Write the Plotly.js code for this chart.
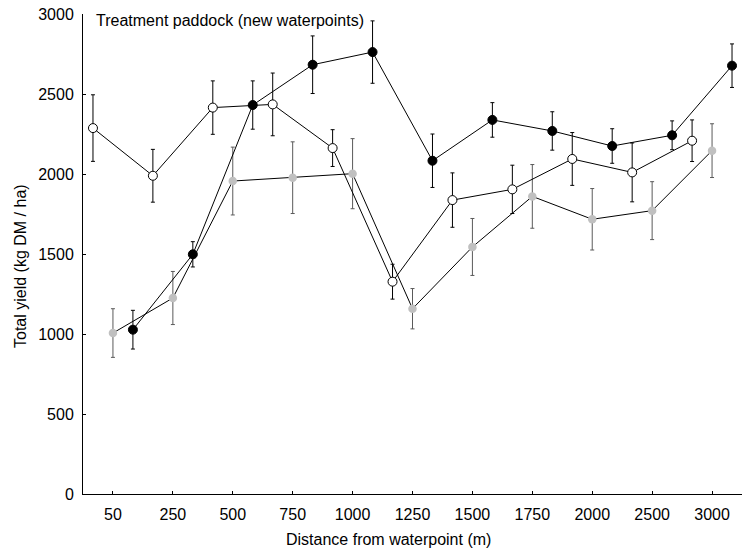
<!DOCTYPE html>
<html>
<head>
<meta charset="utf-8">
<script src="https://cdn.plot.ly/plotly-3.0.1.min.js"></script>
<style>html,body{margin:0;padding:0;background:#fff;}#chart{width:742px;height:557px;}</style>
</head>
<body>
<div id="chart"></div>
<script>
// Distance categories (m)
const categories = ["50","250","500","750","1000","1250","1500","1750","2000","2500","3000"];

// Grey series (filled grey circles)
const greyYield = [1006, 1225, 1956, 1977, 2002, 1158, 1544, 1860, 1717, 1771, 2146];
const greyErr   = [152, 166, 212, 224, 219, 126, 178, 199, 192, 181, 168];

// Black series (filled black circles)
const blackYield = [1027, 1498, 2431, 2683, 2762, 2083, 2338, 2269, 2175, 2242, 2677];
const blackErr   = [121, 79, 151, 180, 195, 167, 108, 120, 108, 90, 136];

// White series (open circles)
const whiteYield = [2287, 1989, 2415, 2435, 2162, 1327, 1837, 1904, 2094, 2010, 2208];
const whiteErr   = [208, 165, 167, 196, 115, 109, 170, 151, 165, 184, 130];

const idx = categories.map((c, i) => i);
const dodge = 1/3;

function series(yv, ev, off, mcolor, lcolor, ecolor, msize) {
  return {
    type: 'scatter', mode: 'lines+markers',
    x: idx.map(i => i + off), y: yv,
    line: {color: '#000', width: 1},
    marker: {size: msize, color: mcolor, line: {color: lcolor || mcolor, width: lcolor ? 1 : 0}},
    error_y: {type: 'data', array: ev, visible: true, color: ecolor, thickness: 1, width: 2},
    showlegend: false, hoverinfo: 'x+y', cliponaxis: false
  };
}

const traces = [
  series(greyYield, greyErr, 0, '#c0c0c0', null, '#5a5a5a', 8.5),
  series(whiteYield, whiteErr, -dodge, '#ffffff', '#000000', '#000000', 9),
  series(blackYield, blackErr, dodge, '#000000', '#000000', '#000000', 9)
];

const font = {family: '"Liberation Sans", Arial, sans-serif', size: 16, color: '#000'};

const layout = {
  width: 742, height: 557,
  margin: {l: 83, r: 0, t: 14, b: 63, pad: 0},
  paper_bgcolor: '#fff', plot_bgcolor: '#fff',
  font: font,
  xaxis: {
    range: [-0.5, 10.5], tickvals: idx, ticktext: categories,
    showgrid: false, zeroline: false, showline: true, linecolor: '#000', linewidth: 1,
    ticks: 'inside', ticklen: 3, tickcolor: '#000', tickwidth: 1,
    ticklabelstandoff: 6, tickfont: font, fixedrange: true
  },
  yaxis: {
    range: [0, 3000], tickvals: [0, 500, 1000, 1500, 2000, 2500, 3000],
    showgrid: false, zeroline: false, showline: true, linecolor: '#000', linewidth: 1,
    ticks: 'inside', ticklen: 3, tickcolor: '#000', tickwidth: 1,
    ticklabelstandoff: 5, tickfont: font, fixedrange: true
  },
  annotations: [
    {text: 'Treatment paddock (new waterpoints)', xref: 'paper', yref: 'paper',
     x: 0.017, y: 0.986, xanchor: 'left', yanchor: 'middle', showarrow: false, font: font},
    {text: 'Distance from waterpoint (m)', xref: 'paper', yref: 'paper',
     x: 0.4636, y: -0.0958, xanchor: 'center', yanchor: 'middle', showarrow: false, font: font},
    {text: 'Total yield (kg DM / ha)', xref: 'paper', yref: 'paper', textangle: -90,
     x: -0.0956, y: 0.475, xanchor: 'center', yanchor: 'middle', showarrow: false, font: font}
  ]
};

Plotly.newPlot('chart', traces, layout, {displayModeBar: false, staticPlot: true});
</script>
</body>
</html>
